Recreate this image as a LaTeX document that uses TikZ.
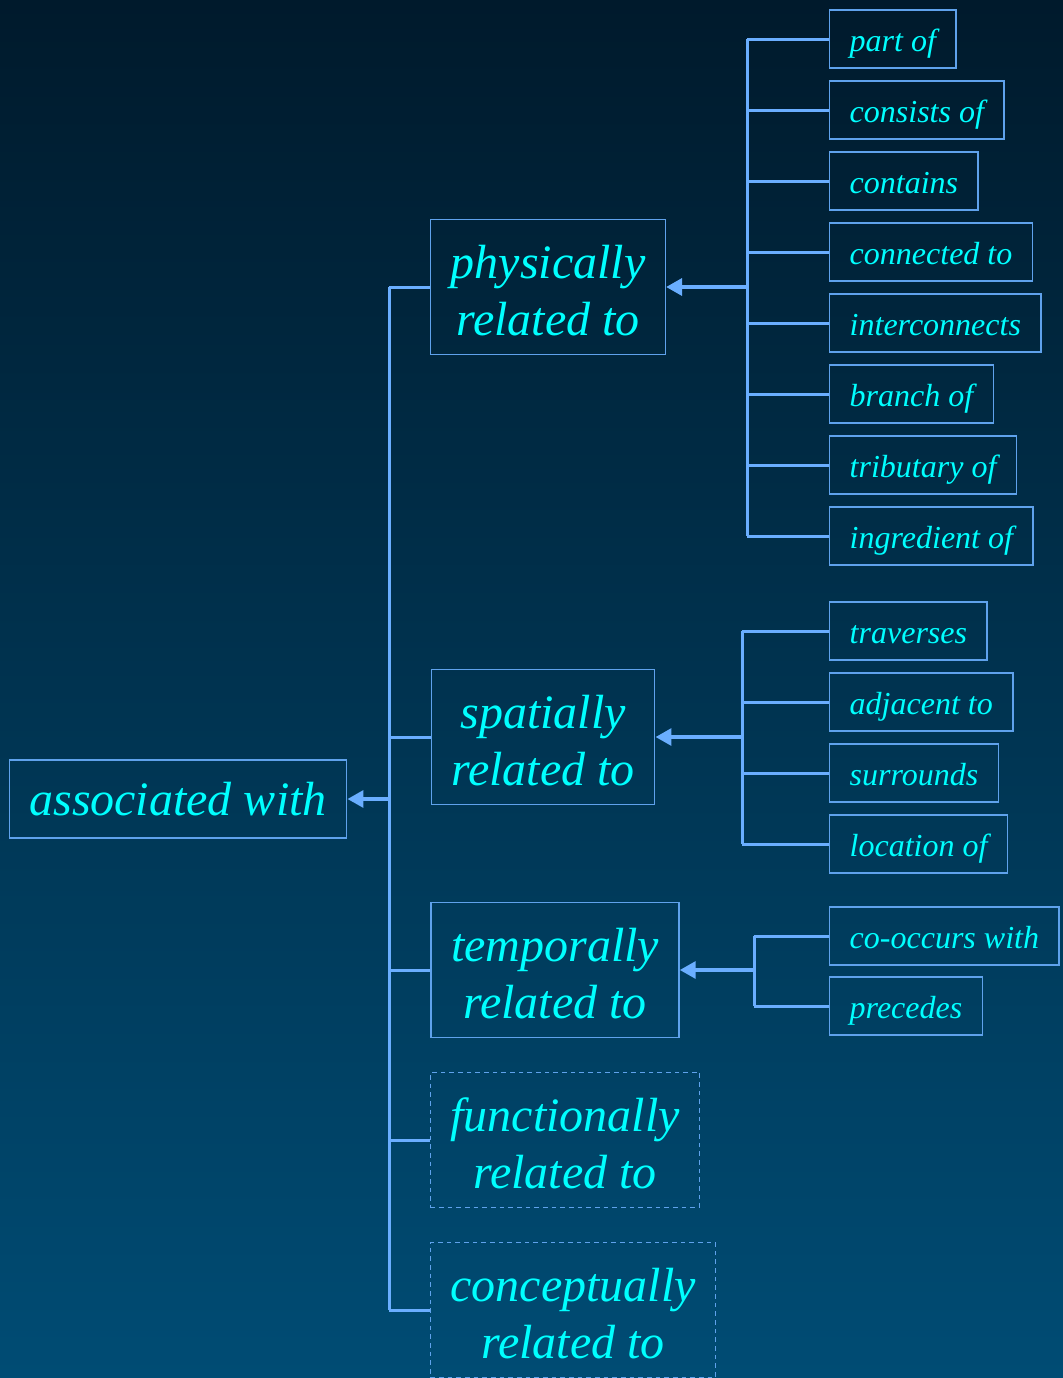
\documentclass[tikz,border=0pt]{standalone}
\usepackage{fontspec}
\setmainfont{Liberation Serif}
\usepackage{xcolor}
\usepackage{tikz}
\usetikzlibrary{arrows.meta,positioning}

\definecolor{bgtop}{HTML}{001A2C}
\definecolor{bgbot}{HTML}{004C74}
\definecolor{linkblue}{HTML}{6AAEFF}
\definecolor{boxblue}{HTML}{5FA2EC}
\definecolor{cyantext}{HTML}{00FFFF}

\begin{document}
\begin{tikzpicture}[
    x=0.75pt, y=-0.75pt,
    root/.style={rectangle, draw=boxblue, line width=1.1pt, text=cyantext,
        font=\fontsize{36}{43}\selectfont\itshape, inner xsep=15pt, minimum height=58.5pt},
    rel/.style={root, align=center, minimum height=101.25pt, text height=73pt, text depth=0pt},
    loose/.style={rel, dashed, dash pattern=on 3.5pt off 3pt},
    kind/.style={rectangle, draw=boxblue, line width=1.1pt, text=cyantext, anchor=west,
        font=\fontsize{24}{28}\selectfont\itshape, inner xsep=15pt, minimum height=43.5pt,
        text height=20pt, text depth=2pt},
    wire/.style={draw=linkblue, line width=2.25pt},
    arrow/.style={-{Triangle[length=12pt,width=12.5pt]}, draw=linkblue, line width=3pt}
]
    % background
    \shade[top color=bgtop, bottom color=bgbot] (0,0) rectangle (1063,1378);
    \useasboundingbox (0,0) rectangle (1063,1378);

    % root and the five kinds of relation
    \node[root] (assoc) at (178,799) {associated with};
    \node[rel] (phys) at (548,287) {physically\\related to};
    \node[rel] (spat) at (543,737) {spatially\\related to};
    \node[rel] (temp) at (555,970) {temporally\\related to};
    \node[loose] (func) at (565,1140) {functionally\\related to};
    \node[loose] (conc) at (573,1310) {conceptually\\related to};

    % physical relations
    \node[kind] (partof) at (829,39) {part of};
    \node[kind] (consists) at (829,110) {consists of};
    \node[kind] (contains) at (829,181) {contains};
    \node[kind] (connected) at (829,252) {connected to};
    \node[kind] (intercon) at (829,323) {interconnects};
    \node[kind] (branch) at (829,394) {branch of};
    \node[kind] (tributary) at (829,465) {tributary of};
    \node[kind] (ingredient) at (829,536) {ingredient of};

    % spatial relations
    \node[kind] (traverses) at (829,631) {traverses};
    \node[kind] (adjacent) at (829,702) {adjacent to};
    \node[kind] (surrounds) at (829,773) {surrounds};
    \node[kind] (location) at (829,844) {location of};

    % temporal relations
    \node[kind] (cooccurs) at (829,936) {co-occurs with};
    \node[kind] (precedes) at (829,1006) {precedes};

    % buses
    \coordinate (mainbus) at (389,799);
    \coordinate (physbus) at (747,287);
    \coordinate (spatbus) at (742,737);
    \coordinate (tempbus) at (754,970);

    \draw[wire] (phys.west -| mainbus) -- (conc.west -| mainbus);
    \draw[wire] (phys.west) -- (phys.west -| mainbus);
    \draw[wire] (spat.west) -- (spat.west -| mainbus);
    \draw[wire] (temp.west) -- (temp.west -| mainbus);
    \draw[wire] (func.west) -- (func.west -| mainbus);
    \draw[wire] (conc.west) -- (conc.west -| mainbus);
    \draw[arrow] (mainbus) -- (assoc.east);

    \draw[wire] (partof.west -| physbus) -- (ingredient.west -| physbus);
    \draw[wire] (partof.west) -- (partof.west -| physbus);
    \draw[wire] (consists.west) -- (consists.west -| physbus);
    \draw[wire] (contains.west) -- (contains.west -| physbus);
    \draw[wire] (connected.west) -- (connected.west -| physbus);
    \draw[wire] (intercon.west) -- (intercon.west -| physbus);
    \draw[wire] (branch.west) -- (branch.west -| physbus);
    \draw[wire] (tributary.west) -- (tributary.west -| physbus);
    \draw[wire] (ingredient.west) -- (ingredient.west -| physbus);
    \draw[arrow] (physbus) -- (phys.east);

    \draw[wire] (traverses.west -| spatbus) -- (location.west -| spatbus);
    \draw[wire] (traverses.west) -- (traverses.west -| spatbus);
    \draw[wire] (adjacent.west) -- (adjacent.west -| spatbus);
    \draw[wire] (surrounds.west) -- (surrounds.west -| spatbus);
    \draw[wire] (location.west) -- (location.west -| spatbus);
    \draw[arrow] (spatbus) -- (spat.east);

    \draw[wire] (cooccurs.west -| tempbus) -- (precedes.west -| tempbus);
    \draw[wire] (cooccurs.west) -- (cooccurs.west -| tempbus);
    \draw[wire] (precedes.west) -- (precedes.west -| tempbus);
    \draw[arrow] (tempbus) -- (temp.east);
\end{tikzpicture}
\end{document}
